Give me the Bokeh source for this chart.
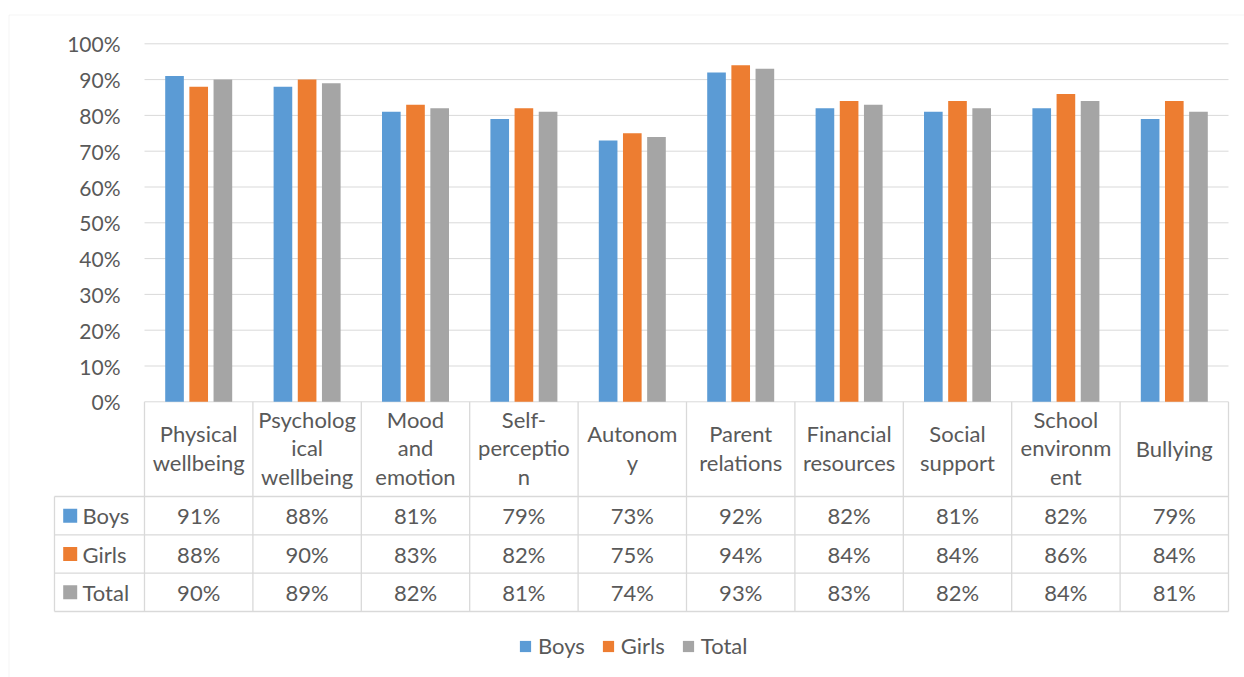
from bokeh.plotting import figure
from bokeh.models import (Range1d, LinearAxis, FixedTicker, PrintfTickFormatter,
                          Legend, LegendItem, BoxAnnotation)
from bokeh.core.properties import value
from bokeh.embed import file_html
from bokeh.resources import INLINE

# ---- data -------------------------------------------------------------
categories = ["Physical wellbeing", "Psychological wellbeing", "Mood and emotion",
              "Self-perception", "Autonomy", "Parent relations",
              "Financial resources", "Social support", "School environment",
              "Bullying"]
header_labels = ["Physical\nwellbeing", "Psycholog\nical\nwellbeing", "Mood\nand\nemotion",
                 "Self-\nperceptio\nn", "Autonom\ny", "Parent\nrelations",
                 "Financial\nresources", "Social\nsupport", "School\nenvironm\nent",
                 "Bullying"]
series_names = ["Boys", "Girls", "Total"]
boys = [91, 88, 81, 79, 73, 92, 82, 81, 82, 79]
girls = [88, 90, 83, 82, 75, 94, 84, 84, 86, 84]
total = [90, 89, 82, 81, 74, 93, 83, 82, 84, 81]
y_ticks = [0, 10, 20, 30, 40, 50, 60, 70, 80, 90, 100]

series_values = [boys, girls, total]
series_colors = ["#5B9BD5", "#ED7D31", "#A5A5A5"]

# ---- layout (pixels) ----------------------------------------------------
W, H = 1244, 677
PLOT_L, PLOT_R = 144.0, 1228.0
PLOT_T, PLOT_B = 43.3, 401.3
TABLE_L = 54.0
ROW_EDGES = [496.0, 534.3, 572.7, 611.0]
HEADER_MID = 447.5

TEXT = "#595959"
LINE = "#D9D9D9"
FONT = "Lato"
FSIZE = "22px"
TICK_FSIZE = "21px"

n = len(categories)
cat_px = (PLOT_R - PLOT_L) / n
pct_px = (PLOT_B - PLOT_T) / 100.0


def xd(px):
    return (px - PLOT_L) / cat_px


def yd(px):
    return (PLOT_B - px) / pct_px


p = figure(width=W, height=H,
           x_range=Range1d(xd(0), xd(W)), y_range=Range1d(yd(H), yd(0)),
           x_axis_type=None, y_axis_type=None,
           output_backend="svg", toolbar_location=None,
           min_border=0, outline_line_color=None)
p.background_fill_color = "white"

# chart border
p.add_layout(BoxAnnotation(left=xd(8.5), top=yd(14.5), right=xd(W + 10), bottom=yd(H + 10),
                           fill_alpha=0, line_color=LINE, line_width=1))

# value gridlines across the plot area
p.segment(x0=[0] * len(y_ticks), x1=[n] * len(y_ticks), y0=y_ticks, y1=y_ticks,
          line_color=LINE, line_width=1)

# y axis drawn at the left edge of the plot area
yaxis = LinearAxis(fixed_location=0,
                   ticker=FixedTicker(ticks=y_ticks),
                   formatter=PrintfTickFormatter(format="%d%%"),
                   axis_line_color=None, major_tick_line_color=None,
                   minor_tick_line_color=None, major_tick_in=0, major_tick_out=0,
                   major_label_standoff=24,
                   major_label_text_font=FONT, major_label_text_font_size=TICK_FSIZE,
                   major_label_text_color=TEXT)
p.add_layout(yaxis, "left")

# clustered bars
centers = [i + 0.5 for i in range(n)]
offsets = [-0.223, 0.0, 0.223]
bar_w = 0.172
renderers = []
for vals, off, col in zip(series_values, offsets, series_colors):
    r = p.vbar(x=[c + off for c in centers], top=vals, bottom=0, width=bar_w,
               fill_color=col, line_color=None)
    renderers.append(r)

# ---- data table -----------------------------------------------------
row_mids = [(ROW_EDGES[k] + ROW_EDGES[k + 1]) / 2 for k in range(3)]

# horizontal rules
p.segment(x0=[xd(TABLE_L)] * len(ROW_EDGES), x1=[n] * len(ROW_EDGES),
          y0=[yd(v) for v in ROW_EDGES], y1=[yd(v) for v in ROW_EDGES],
          line_color=LINE, line_width=1.3)
# vertical rules at category boundaries
p.segment(x0=list(range(n + 1)), x1=list(range(n + 1)),
          y0=[0] * (n + 1), y1=[yd(ROW_EDGES[-1])] * (n + 1),
          line_color=LINE, line_width=1.3)
# left edge of the row-label column
p.segment(x0=[xd(TABLE_L)], x1=[xd(TABLE_L)], y0=[yd(ROW_EDGES[0])], y1=[yd(ROW_EDGES[-1])],
          line_color=LINE, line_width=1.3)

# category headers
p.text(x=centers, y=[yd(HEADER_MID)] * n, text=header_labels,
       text_align="center", text_baseline="middle", text_line_height=1.06,
       text_font=value(FONT), text_font_size=FSIZE, text_color=TEXT)

# values
for k, vals in enumerate(series_values):
    p.text(x=centers, y=[yd(row_mids[k])] * n, text=[f"{v}%" for v in vals],
           text_align="center", text_baseline="middle",
           text_font=value(FONT), text_font_size=FSIZE, text_color=TEXT)

# row keys
p.scatter(x=[xd(69.7)] * 3, y=[yd(m) for m in row_mids], marker="square", size=14,
          fill_color=series_colors, line_color=None)
p.text(x=[xd(82.0)] * 3, y=[yd(m) for m in row_mids], text=series_names,
       text_align="left", text_baseline="middle",
       text_font=value(FONT), text_font_size=FSIZE, text_color=TEXT)

# ---- legend ---------------------------------------------------------
legend = Legend(items=[LegendItem(label=nm, renderers=[r]) for nm, r in zip(series_names, renderers)],
                orientation="horizontal", location=(518, 18),
                glyph_width=14, glyph_height=14, label_standoff=6, spacing=16,
                padding=0, margin=0, border_line_color=None, background_fill_alpha=0,
                label_text_font=FONT, label_text_font_size=FSIZE, label_text_color=TEXT)
p.add_layout(legend)

open("out.html", "w").write(file_html(p, INLINE))
